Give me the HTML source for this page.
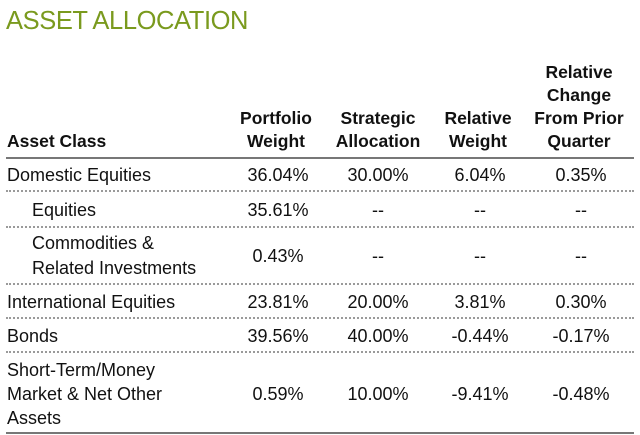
<!DOCTYPE html>
<html><head><meta charset="utf-8"><style>
body{margin:0;width:640px;height:435px;background:#fff;font-family:"Liberation Sans",sans-serif;color:#111;position:relative;overflow:hidden}
.t{position:absolute;left:6px;top:7px;font-size:25.5px;color:#7a9a1e;letter-spacing:-0.4px}
.a{position:absolute;white-space:nowrap;font-size:18px;line-height:24px}
.h{font-weight:bold;font-size:17.5px;text-align:center;line-height:23px}
.c{transform:translateX(-50%);text-align:center}
.ln{position:absolute;left:6px;width:628px;height:0;border-top:2px dotted #9a9a9a}
.sl{position:absolute;left:6px;width:628px;height:2px;background:#777}
</style></head><body>
<div class="t">ASSET ALLOCATION</div>
<div class="a h" style="left:7px;top:130px;text-align:left">Asset Class</div>
<div class="a h c" style="left:276px;top:107px">Portfolio<br>Weight</div>
<div class="a h c" style="left:378px;top:107px">Strategic<br>Allocation</div>
<div class="a h c" style="left:478px;top:107px">Relative<br>Weight</div>
<div class="a h c" style="left:579px;top:61px">Relative<br>Change<br>From Prior<br>Quarter</div>
<div class="sl" style="top:157px"></div>

<div class="a" style="left:7px;top:163px">Domestic Equities</div>
<div class="a c" style="left:278px;top:163px">36.04%</div>
<div class="a c" style="left:378px;top:163px">30.00%</div>
<div class="a c" style="left:480px;top:163px">6.04%</div>
<div class="a c" style="left:581px;top:163px">0.35%</div>
<div class="ln" style="top:190px"></div>

<div class="a" style="left:32px;top:198px">Equities</div>
<div class="a c" style="left:278px;top:198px">35.61%</div>
<div class="a c" style="left:378px;top:198px">--</div>
<div class="a c" style="left:480px;top:198px">--</div>
<div class="a c" style="left:581px;top:198px">--</div>
<div class="ln" style="top:226px"></div>

<div class="a" style="left:32px;top:231px;line-height:25px">Commodities &amp;<br>Related Investments</div>
<div class="a c" style="left:278px;top:244px">0.43%</div>
<div class="a c" style="left:378px;top:244px">--</div>
<div class="a c" style="left:480px;top:244px">--</div>
<div class="a c" style="left:581px;top:244px">--</div>
<div class="ln" style="top:283px"></div>

<div class="a" style="left:7px;top:290px">International Equities</div>
<div class="a c" style="left:278px;top:290px">23.81%</div>
<div class="a c" style="left:378px;top:290px">20.00%</div>
<div class="a c" style="left:480px;top:290px">3.81%</div>
<div class="a c" style="left:581px;top:290px">0.30%</div>
<div class="ln" style="top:317px"></div>

<div class="a" style="left:7px;top:324px">Bonds</div>
<div class="a c" style="left:278px;top:324px">39.56%</div>
<div class="a c" style="left:378px;top:324px">40.00%</div>
<div class="a c" style="left:480px;top:324px">-0.44%</div>
<div class="a c" style="left:581px;top:324px">-0.17%</div>
<div class="ln" style="top:351px"></div>

<div class="a" style="left:7px;top:358px">Short-Term/Money<br>Market &amp; Net Other<br>Assets</div>
<div class="a c" style="left:278px;top:382px">0.59%</div>
<div class="a c" style="left:378px;top:382px">10.00%</div>
<div class="a c" style="left:480px;top:382px">-9.41%</div>
<div class="a c" style="left:581px;top:382px">-0.48%</div>
<div class="sl" style="top:432px"></div>
</body></html>
